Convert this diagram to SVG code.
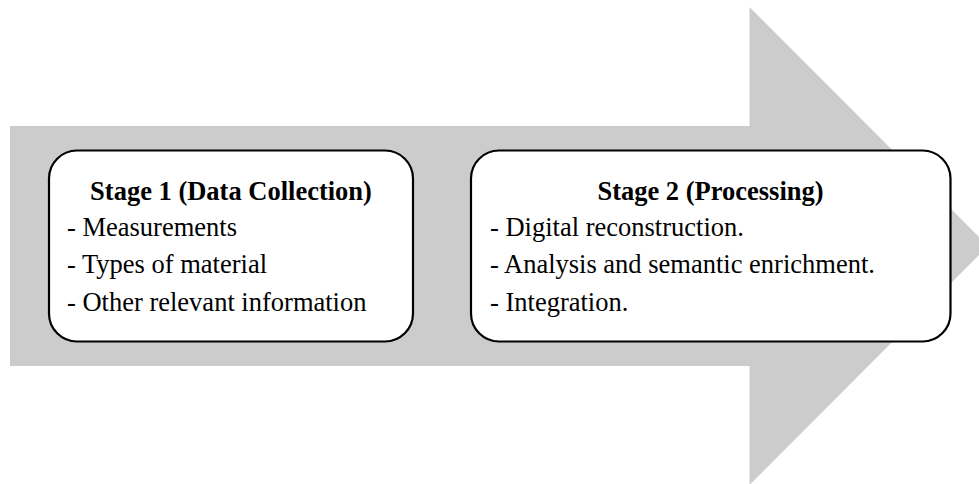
<svg xmlns="http://www.w3.org/2000/svg" width="979" height="484" viewBox="0 0 979 484">
<style>
.box{fill:#fff;stroke:#000;stroke-width:2.2}
.t{font-family:"Liberation Serif","Times New Roman",serif;font-size:26.5px;fill:#000}
.b{font-weight:bold;text-anchor:middle}
</style>
<rect width="979" height="484" fill="#fff"/>
<g id="arrow">
<polygon points="10,126 749.5,126 749.5,7 988,246 749.5,485 749.5,366 10,366" fill="#cccccc"/>
</g>
<g id="connectors"></g>
<g id="stage1">
<rect class="box" x="49" y="150.5" width="364" height="191" rx="28" ry="28"/>
<text class="t b" x="231" y="200">Stage 1 (Data Collection)</text>
<text class="t" x="67" y="236">- Measurements</text>
<text class="t" x="67" y="273">- Types of material</text>
<text class="t" x="67" y="311">- Other relevant information</text>
</g>
<g id="stage2">
<rect class="box" x="471" y="150.5" width="479.5" height="191" rx="28" ry="28"/>
<text class="t b" x="710.5" y="200">Stage 2 (Processing)</text>
<text class="t" x="490" y="236">- Digital reconstruction.</text>
<text class="t" x="490" y="273">- Analysis and semantic enrichment.</text>
<text class="t" x="490" y="311">- Integration.</text>
</g>
</svg>
